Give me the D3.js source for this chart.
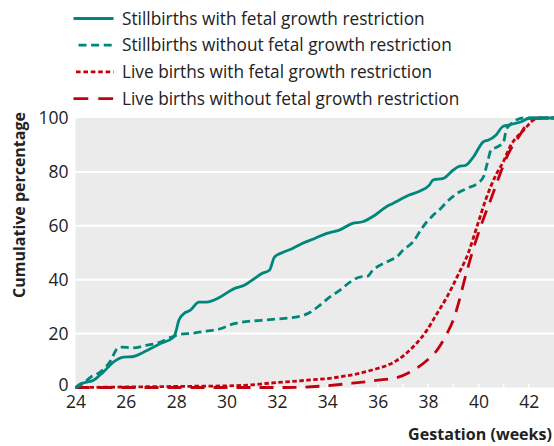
<!DOCTYPE html>
<html><head><meta charset="utf-8">
<script src="https://cdn.jsdelivr.net/npm/d3@7"></script>
<style>html,body{margin:0;padding:0;background:#fff;} svg{display:block;}</style>
</head><body>
<svg id="chart" width="554" height="446"></svg>
<script>
// ---- data ----
const seriesNames = [
  "Stillbirths with fetal growth restriction",
  "Stillbirths without fetal growth restriction",
  "Live births with fetal growth restriction",
  "Live births without fetal growth restriction"
];
const sbFgrWeeks = [24.0,24.2,24.45,24.7,25.1,25.5,25.9,26.3,26.7,27.35,27.9,28.0,28.1,28.3,28.55,28.9,29.2,29.75,30.3,30.7,31.1,31.4,31.7,31.9,32.2,32.6,33.0,33.5,33.95,34.5,35.0,35.4,35.9,36.33,36.6,37.25,37.7,38.05,38.2,38.6,39.0,39.2,39.5,39.8,40.2,40.4,40.7,40.96,41.2,41.7,42.0,42.3,43.0];
const sbFgrPct   = [0,1.4,2.0,2.6,5.7,9.4,11.3,11.5,13.1,16.2,18.7,21.2,24.9,27.4,28.6,31.7,31.7,33.6,36.7,37.9,40.4,42.3,43.5,48.4,50,51.5,53.4,55.3,57.1,58.5,60.9,61.5,64,67,68.3,71.4,73,75.1,77,77.6,80.7,81.9,82.5,85.6,91.2,91.8,93.7,96.8,97.4,98.6,99.9,100,100];
const sbNoFgrWeeks = [24.0,24.3,24.6,24.98,25.4,25.65,25.8,26.3,26.8,27.35,27.75,28.15,28.7,29.2,29.75,30.3,30.8,31.35,32.1,32.9,33.3,33.7,34.1,34.5,34.9,35.3,35.6,35.8,36.1,36.5,36.75,37.0,37.4,37.75,37.95,38.2,38.5,38.75,39.15,39.55,39.95,40.2,40.35,40.5,40.75,41.0,41.1,41.25,41.8,43.0];
const sbNoFgrPct   = [0,1.5,3.8,5.7,10,14.4,15,14.7,15.6,16.8,18.5,19.7,20.2,20.9,21.8,23.7,24.5,24.9,25.5,26.4,27.8,30.5,33.6,36.1,39.1,41,41.3,43.5,45.4,47.2,48.4,50.9,54,59,61.5,63.9,66.4,68.9,72,73.9,75.7,78.2,83.2,88.1,89.3,91.2,95.5,97.4,100,100];
const lbFgrWeeks = [24,26,28,30,31,31.7,33.05,34.4,35.7,36.75,37.4,37.95,38.35,38.75,39.15,39.6,39.95,40.3,40.7,41.0,41.25,41.8,42.2,42.4,43];
const lbFgrPct   = [0,0.2,0.4,0.6,1.0,1.6,2.6,3.8,6.3,10,15,21.2,27.4,33.6,41,50,60,70,79,84,89.3,95.5,99.3,100,100];
const lbNoFgrWeeks = [24,28,31,32.4,33.05,34.0,35.0,36.1,36.75,37.4,37.95,38.35,38.75,39.0,39.2,39.45,39.75,40.1,40.5,40.85,41.1,41.35,41.6,41.9,42.3,43];
const lbNoFgrPct   = [0,0,0,0,0.1,0.7,1.6,2.8,3.6,6.3,10,13.8,20,25,31,40,50,60,70,79,85,89.5,93,97.4,99.9,100];
const xTicks = [24,26,28,30,32,34,36,38,40,42];
const yTicks = [0,20,40,60,80,100];
const xTitle = "Gestation (weeks)";
const yTitle = "Cumulative percentage";

// ---- layout ----
const teal = "#00877c", red = "#c4000f";
const svg = d3.select("#chart");
const x = d3.scaleLinear().domain([24,43]).range([75.5,554]);
const y = d3.scaleLinear().domain([0,100]).range([387.5,118]);
const font = "'Open Sans', 'Noto Sans', sans-serif";

function fitWidth(sel, target){
  const fs = +sel.attr("font-size");
  const w = sel.node().getComputedTextLength();
  if (w > 0) sel.attr("font-size", fs * target / w);
}

svg.append("rect").attr("x",x(24)).attr("y",y(100))
  .attr("width",x(43)-x(24)).attr("height",y(0)-y(100)).attr("fill","#ebebeb");

svg.append("g").selectAll("line").data(yTicks.filter(d=>d>0&&d<100)).join("line")
  .attr("x1",x(24)).attr("x2",x(43)).attr("y1",d=>y(d)).attr("y2",d=>y(d))
  .attr("stroke","#fff").attr("stroke-width",2);

// small white week ticks at bottom of panel
svg.append("g").selectAll("line").data(d3.range(25,43)).join("line")
  .attr("x1",d=>x(d)).attr("x2",d=>x(d)).attr("y1",y(0)).attr("y2",y(0)-3.5)
  .attr("stroke","#fff").attr("stroke-width",1.5);

// axes labels
const xAxis = d3.axisBottom(x).tickValues(xTicks).tickSize(0).tickPadding(8).tickFormat(d3.format("d"));
const gx = svg.append("g").attr("transform",`translate(0,${y(0)})`).call(xAxis);
gx.select(".domain").remove();
gx.selectAll("text").attr("font-family",font).attr("font-size",17.5).attr("fill","#222");

const yAxis = d3.axisLeft(y).tickValues(yTicks).tickSize(0).tickPadding(7);
const gy = svg.append("g").attr("transform",`translate(${x(24)},0)`).call(yAxis);
gy.select(".domain").remove();
gy.selectAll("text").attr("font-family",font).attr("font-size",17.5).attr("fill","#222");
gy.selectAll(".tick").filter(d=>d===0).select("text").attr("y",-3);

const xt = svg.append("text").attr("x",552).attr("y",440).attr("text-anchor","end")
  .attr("font-family",font).attr("font-weight","bold").attr("font-size",16).attr("fill","#222").text(xTitle);
fitWidth(xt,144);
const yt = svg.append("text").attr("transform",`translate(25,${205}) rotate(-90)`).attr("text-anchor","middle")
  .attr("font-family",font).attr("font-weight","bold").attr("font-size",16).attr("fill","#222").text(yTitle);
fitWidth(yt,186);

// lines
const line = d3.line().x(d=>x(d[0])).y(d=>y(d[1])).curve(d3.curveMonotoneX);
const series = [
  {w:lbNoFgrWeeks, v:lbNoFgrPct, color:red, dash:"14,9"},
  {w:lbFgrWeeks, v:lbFgrPct, color:red, dash:"4.5,2.5"},
  {w:sbNoFgrWeeks, v:sbNoFgrPct, color:teal, dash:"8,4.5"},
  {w:sbFgrWeeks, v:sbFgrPct, color:teal, dash:null}
];
series.forEach(s=>{
  svg.append("path").datum(d3.zip(s.w,s.v)).attr("d",line)
    .attr("fill","none").attr("stroke",s.color).attr("stroke-width",2.8)
    .attr("stroke-dasharray",s.dash);
});

// legend
const legend = [
  {name:seriesNames[0], color:teal, dash:null, x1:73.5},
  {name:seriesNames[1], color:teal, dash:"8,4.6", x1:78.5},
  {name:seriesNames[2], color:red, dash:"4.6,2.8", x1:76},
  {name:seriesNames[3], color:red, dash:"14.8,10", x1:73.5}
];
const lg = svg.append("g");
let legendFs = null;
legend.forEach((l,i)=>{
  const yy = 18.5 + i*26.7;
  lg.append("line").attr("x1",l.x1).attr("x2",113.5).attr("y1",yy).attr("y2",yy)
    .attr("stroke",l.color).attr("stroke-width",2.8).attr("stroke-dasharray",l.dash);
  const t = lg.append("text").attr("x",122).attr("y",yy).attr("dy","0.35em")
    .attr("font-family",font).attr("font-size",16.5).attr("fill","#222").text(l.name);
  if (i===0){ fitWidth(t,303); legendFs = +t.attr("font-size"); }
  else t.attr("font-size",legendFs);
});
</script>
</body></html>
